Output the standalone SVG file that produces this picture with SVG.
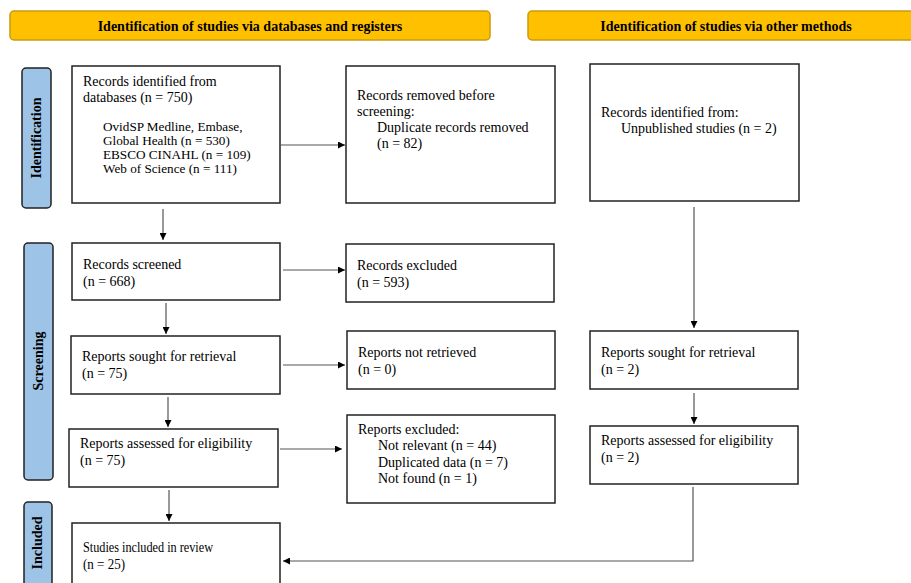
<svg xmlns="http://www.w3.org/2000/svg" width="911" height="583" viewBox="0 0 911 583">
<defs>
<marker id="ah" viewBox="0 0 10 10" refX="10" refY="5" markerWidth="7" markerHeight="7" orient="auto" markerUnits="userSpaceOnUse"><path d="M0,0 L10,5 L0,10 z" fill="#000"/></marker>
<style>
text{font-family:"Liberation Serif","Times New Roman",serif;fill:#000}
.box{fill:#fff;stroke:#222;stroke-width:1.5}
.hdr{fill:#FFC000;stroke:#C99A10;stroke-width:1.5}
.side{fill:#9DC3E6;stroke:#222;stroke-width:1.5}
.ht{font-size:14px;font-weight:bold;text-anchor:middle}
.st{font-size:14px;font-weight:bold;text-anchor:middle}
.t{font-size:14px}
.s{font-size:13.2px}
.c{fill:none;stroke:#555;stroke-width:1.2}
</style>
</defs>
<rect width="911" height="583" fill="#fff"/>
<g id="hdr1"><rect class="hdr" x="10" y="11" width="480" height="29" rx="4"/><text class="ht" x="250" y="31">Identification of studies via databases and registers</text></g>
<g id="hdr2"><rect class="hdr" x="528" y="11" width="395" height="29" rx="4"/><text class="ht" x="726" y="31">Identification of studies via other methods</text></g>
<g id="lab-ident"><rect class="side" x="22" y="68" width="29" height="140" rx="4"/><text class="st" transform="translate(41,138) rotate(-90)">Identification</text></g>
<g id="lab-screen"><rect class="side" x="24" y="243" width="29" height="237" rx="4"/><text class="st" transform="translate(43,361) rotate(-90)">Screening</text></g>
<g id="lab-incl"><rect class="side" x="24" y="502" width="28" height="100" rx="4"/><text class="st" transform="translate(42,543) rotate(-90)">Included</text></g>
<g id="n1"><rect class="box" x="72" y="66" width="208" height="137"/>
<text class="t" x="83" y="86">Records identified from</text>
<text class="t" x="83" y="102">databases (n = 750)</text>
<text class="s" x="103" y="131">OvidSP Medline, Embase,</text>
<text class="s" x="103" y="145">Global Health (n = 530)</text>
<text class="s" x="103" y="159">EBSCO CINAHL (n = 109)</text>
<text class="s" x="103" y="173">Web of Science (n = 111)</text></g>
<g id="n2"><rect class="box" x="346" y="66" width="209" height="137"/>
<text class="t" x="357" y="100">Records removed before</text>
<text class="t" x="357" y="116">screening:</text>
<text class="t" x="377" y="132">Duplicate records removed</text>
<text class="t" x="377" y="148">(n = 82)</text></g>
<g id="n3"><rect class="box" x="590" y="64" width="209" height="137"/>
<text class="t" x="601" y="117">Records identified from:</text>
<text class="t" x="621" y="133">Unpublished studies (n = 2)</text></g>
<g id="n4"><rect class="box" x="72" y="243" width="208" height="57"/>
<text class="t" x="83" y="269">Records screened</text>
<text class="t" x="83" y="286">(n = 668)</text></g>
<g id="n5"><rect class="box" x="346" y="244" width="208" height="58"/>
<text class="t" x="357" y="270">Records excluded</text>
<text class="t" x="357" y="287">(n = 593)</text></g>
<g id="n6"><rect class="box" x="71" y="336" width="209" height="58"/>
<text class="t" x="82" y="361">Reports sought for retrieval</text>
<text class="t" x="82" y="378">(n = 75)</text></g>
<g id="n7"><rect class="box" x="347" y="331" width="208" height="58"/>
<text class="t" x="358" y="357">Reports not retrieved</text>
<text class="t" x="358" y="374">(n = 0)</text></g>
<g id="n8"><rect class="box" x="69" y="429" width="209" height="58"/>
<text class="t" x="80" y="448">Reports assessed for eligibility</text>
<text class="t" x="80" y="465">(n = 75)</text></g>
<g id="n9"><rect class="box" x="347" y="415" width="208" height="88"/>
<text class="t" x="358" y="434">Reports excluded:</text>
<text class="t" x="378" y="450">Not relevant (n = 44)</text>
<text class="t" x="378" y="467">Duplicated data (n = 7)</text>
<text class="t" x="378" y="483">Not found (n = 1)</text></g>
<g id="n10"><rect class="box" x="590" y="331" width="208" height="58"/>
<text class="t" x="601" y="357">Reports sought for retrieval</text>
<text class="t" x="601" y="374">(n = 2)</text></g>
<g id="n11"><rect class="box" x="590" y="426" width="208" height="58"/>
<text class="t" x="601" y="445">Reports assessed for eligibility</text>
<text class="t" x="601" y="462">(n = 2)</text></g>
<g id="n12"><rect class="box" x="72" y="523" width="208" height="80"/>
<text class="t" x="83" y="552" textLength="130" lengthAdjust="spacingAndGlyphs">Studies included in review</text>
<text class="t" x="83" y="569" textLength="42" lengthAdjust="spacingAndGlyphs">(n = 25)</text></g>
<g id="connectors">
<line class="c" x1="280" y1="145" x2="345" y2="145" marker-end="url(#ah)"/>
<line class="c" x1="163" y1="209" x2="163" y2="240" marker-end="url(#ah)"/>
<line class="c" x1="283" y1="270" x2="345" y2="270" marker-end="url(#ah)"/>
<line class="c" x1="166" y1="303" x2="166" y2="334" marker-end="url(#ah)"/>
<line class="c" x1="283" y1="365" x2="345" y2="365" marker-end="url(#ah)"/>
<line class="c" x1="168" y1="397" x2="168" y2="427" marker-end="url(#ah)"/>
<line class="c" x1="280" y1="449" x2="342" y2="449" marker-end="url(#ah)"/>
<line class="c" x1="169" y1="490" x2="169" y2="521" marker-end="url(#ah)"/>
<line class="c" x1="694" y1="207" x2="694" y2="328" marker-end="url(#ah)"/>
<line class="c" x1="694" y1="393" x2="694" y2="424" marker-end="url(#ah)"/>
<polyline class="c" points="693,487 693,561 283,561" marker-end="url(#ah)"/>
</g>
</svg>
